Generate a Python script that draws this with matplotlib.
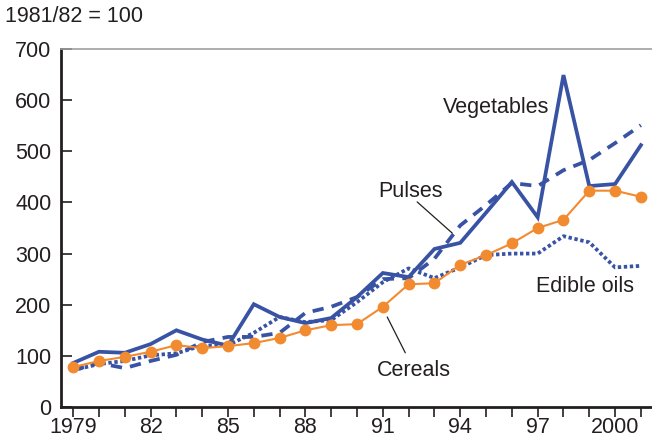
import matplotlib
matplotlib.use('Agg')
import matplotlib.pyplot as plt

# --- Data (index, 1981/82 = 100) ---
years = list(range(1979, 2002))
vegetables = [86, 108, 106, 123, 150, 132, 120, 201, 176, 164, 174, 215, 262, 254, 309,
              321, 380, 440, 371, 649, 432, 436, 512]
pulses = [72, 86, 76, 90, 102, 127, 137, 137, 145, 184, 196, 215, 250, 252, 290,
          355, 395, 438, 432, 463, 483, 516, 551]
edible_oils = [72, 84, 90, 101, 105, 120, 121, 145, 176, 166, 170, 205, 244, 271, 252,
               273, 297, 300, 300, 334, 322, 273, 276]
cereals = [78, 90, 98, 108, 121, 115, 119, 125, 135, 150, 160, 162, 196, 240, 242,
           278, 297, 320, 350, 366, 423, 423, 411]

xtick_labels = {1979: '1979', 1982: '82', 1985: '85', 1988: '88', 1991: '91',
                1994: '94', 1997: '97', 2000: '2000'}

BLUE = '#3953a4'
ORANGE = '#f28a30'
INK = '#231f20'
FS = 15.5

plt.rcParams['font.family'] = ['Liberation Sans', 'DejaVu Sans']

fig = plt.figure(figsize=(6.52, 4.4), dpi=100)
ax = fig.add_axes([0.0936, 0.075, 0.9064, 0.8136])

ax.plot(years, vegetables, color=BLUE, linewidth=2.7, solid_joinstyle='miter')
ax.plot(years, pulses, color=BLUE, linewidth=2.7, linestyle=(0, (3, 2.2)))
ax.plot(years, edible_oils, color=BLUE, linewidth=2.7, linestyle=(0, (0.9, 0.7)))
ax.plot(years, cereals, color=ORANGE, linewidth=1.5, marker='o', markersize=8.5,
        markeredgewidth=0)

ax.set_xlim(1978.53, 2001.43)
ax.set_ylim(0, 700)

ax.set_xticks(years)
ax.set_xticklabels([xtick_labels.get(y, '') for y in years])
ax.set_yticks(range(0, 701, 100))

ax.tick_params(axis='x', direction='out', length=7, width=1.2, labelsize=FS, pad=0,
               colors=INK)
ax.tick_params(axis='y', direction='in', length=8, width=1.2, labelsize=FS, pad=7,
               colors=INK)

for side in ['left', 'bottom']:
    ax.spines[side].set_linewidth(2)
    ax.spines[side].set_color(INK)
ax.spines['top'].set_color('#a0a0a0')
ax.spines['top'].set_linewidth(1.2)
ax.spines['right'].set_visible(False)

# --- Labels ---
fig.text(0.008, 0.962, '1981/82 = 100', fontsize=FS, ha='left', va='center', color=INK)

ax.text(1995.4, 586, 'Vegetables', fontsize=FS, ha='center', va='center', color=INK)
ax.text(1998.85, 235, 'Edible oils', fontsize=FS, ha='center', va='center', color=INK)
ax.text(1992.06, 422, 'Pulses', fontsize=FS, ha='center', va='center', color=INK)
ax.text(1992.2, 72, 'Cereals', fontsize=FS, ha='center', va='center', color=INK)

# leader lines
ax.annotate('', xy=(1993.69, 340), xytext=(1992.33, 401),
            arrowprops=dict(arrowstyle='-', color=INK, lw=0.9, shrinkA=0, shrinkB=0))
ax.annotate('', xy=(1991.17, 176), xytext=(1991.87, 106),
            arrowprops=dict(arrowstyle='-', color=INK, lw=0.9, shrinkA=0, shrinkB=0))

fig.savefig('out.png', dpi=100)
